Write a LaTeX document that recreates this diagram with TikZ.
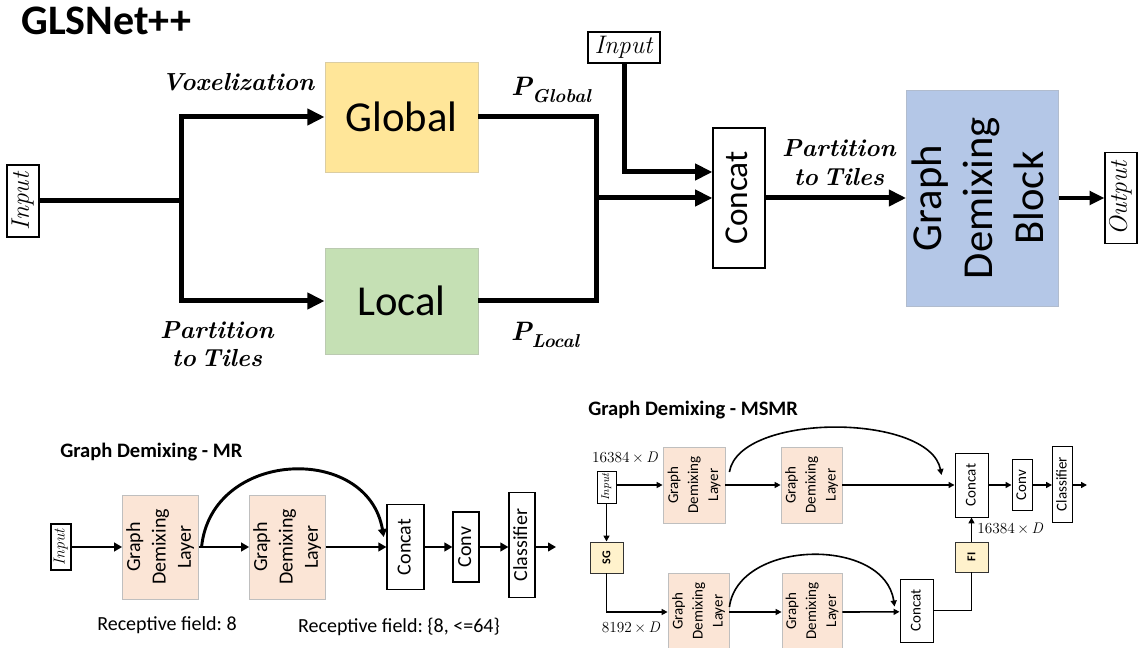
\documentclass[tikz,border=0pt]{standalone}
\usepackage{fontspec}
\setsansfont{Carlito}
\usepackage{graphicx}
\usetikzlibrary{arrows.meta,calc}
\frenchspacing

\definecolor{gyel}{HTML}{FFE699}
\definecolor{ggrn}{HTML}{C5E0B4}
\definecolor{gblu}{HTML}{B4C7E7}
\definecolor{gpch}{HTML}{FBE5D6}
\definecolor{gcrm}{HTML}{FFF2CC}

% vertical (rotated) multi-line text
\newcommand\vt[1]{\rotatebox{90}{\begin{tabular}{@{}c@{}}#1\end{tabular}}}
% spaced bold-italic labels
\newcommand\bi[1]{{\bfseries\itshape\addfontfeatures{LetterSpace=8}#1}}
% bold-italic symbol with a subscript
\newcommand\psub[1]{\bi{P}\raisebox{-0.28em}{\fontsize{14}{15}\selectfont\bi{#1}}}

\tikzset{
  sz/.style 2 args={minimum width=#1*0.75pt, minimum height=#2*0.75pt},
  box/.style={draw=black, line width=0.9pt, fill=white, inner sep=0pt},
  cbox/.style={draw=black!25, line width=0.6pt, inner sep=0pt},
  fat/.style={line width=3.75pt},
  fatarrow/.style={fat, -{Triangle[length=13pt,width=12pt]}},
  outarrow/.style={line width=3pt, -{Triangle[length=11pt,width=10pt]}},
  midline/.style={line width=2pt},
  midarrow/.style={midline, -{Triangle[length=6pt,width=6.5pt]}},
  thinline/.style={line width=1.2pt},
  thinarrow/.style={thinline, -{Triangle[length=4.5pt,width=4.5pt]}},
  big/.style={font=\sffamily\fontsize{32}{38}\selectfont},
  lbl/.style={font=\fontsize{18.5}{21.5}\selectfont, align=center, inner sep=0pt},
  plbl/.style={font=\fontsize{20}{23}\selectfont, inner sep=0pt},
  mrf/.style={font=\sffamily\fontsize{15}{19}\selectfont},
  msf/.style={font=\sffamily\fontsize{11.25}{15}\selectfont},
  dimf/.style={inner sep=0pt, font=\fontsize{11.5}{14}\selectfont},
}

\begin{document}
\begin{tikzpicture}[x=0.75pt, y=-0.75pt]
\useasboundingbox (0,0) rectangle (1143,648);

% ---------------- GLSNet++ overview ----------------
\node[anchor=base west, inner sep=0pt, font=\sffamily\fontsize{31.5}{36}\selectfont\bfseries] (title) at (21,35) {GLSNet++};

\node[box, sz={32}{72}, font=\fontsize{19}{22}\selectfont] (inL) at (23,201) {\vt{\textit{Input}}};
\coordinate (jL) at (181,201);

\node[cbox, fill=gyel, draw=gyel!80!black!70, sz={153}{110}, big] (global) at (401.5,117) {Global};
\node[cbox, fill=ggrn, draw=ggrn!80!black!70, sz={153}{106}, big] (local) at (401.5,301) {Local};

\node[lbl] (vox) at (238,82) {\bi{Voxelization}};
\node[lbl] (ptL) at (217,344) {\bi{Partition}\\\bi{to\hspace{-0.2em} Tiles}};

\draw[fat] (inL.east) -- (jL);
\draw[fatarrow] (jL) |- (global.west);
\draw[fatarrow] (jL) |- (local.west);

\node[plbl] (pg) at (551,90) {\psub{Global}};
\node[plbl] (pl) at (545,335) {\psub{Local}};

\coordinate (jR) at (596,198);
\draw[fat] (global.east) -| (jR);
\draw[fat] (local.east) -| (jR);

\node[box, sz={52}{140}, font=\sffamily\fontsize{25}{30}\selectfont] (concat) at (739,198) {\vt{Concat}};
\draw[fatarrow] (jR) -- (concat.west);

\node[box, sz={72}{31}, font=\fontsize{19}{22}\selectfont] (in2) at (624,47.5) {\textit{Input}};
\draw[fatarrow] (in2.south) |- ([yshift=19.5pt]concat.west);

\node[lbl] (ptR) at (839,162.5) {\bi{Partition}\\\bi{to\hspace{-0.2em} Tiles}};

\node[cbox, fill=gblu, draw=gblu!80!black!70, sz={151}{216}, big] (gdb) at (982.5,198) {\vt{Graph\\Demixing\\Block}};
\draw[fatarrow] (concat.east) -- (gdb.west);

\node[box, sz={32}{91}, font=\fontsize{19}{22}\selectfont] (out) at (1121,198) {\vt{\textit{Output}}};
\draw[outarrow] (gdb.east) -- (out.west);

% ---------------- Graph Demixing - MR ----------------
\node[anchor=west, inner sep=0pt, font=\sffamily\fontsize{15.4}{18}\selectfont\bfseries] (mrT) at (60,452) {Graph Demixing - MR};

\node[box, line width=0.8pt, sz={20}{46}, font=\fontsize{12}{14}\selectfont] (inA) at (61,547) {\vt{\textit{Input}}};
\node[cbox, fill=gpch, sz={67}{104}, mrf] (gA1) at (160.5,547) {\vt{Graph\\Demixing\\Layer}};
\node[cbox, fill=gpch, sz={69}{104}, mrf] (gA2) at (287.5,547) {\vt{Graph\\Demixing\\Layer}};
\node[box, sz={37}{85}, mrf] (cA) at (405.5,547) {\vt{Concat}};
\node[box, sz={26}{70}, mrf] (vA) at (466,547) {\vt{Conv}};
\node[box, sz={26}{105}, mrf] (kA) at (522,545) {\vt{Classifier}};
\coordinate (oA) at (556,547);

\draw[midarrow] (inA.east) -- (gA1.west);
\draw[midarrow] (gA1.east) -- (gA2.west);
\draw[midarrow] (gA2.east) -- (cA.west);
\draw[midarrow] (cA.east) -- (vA.west);
\draw[midarrow] (vA.east) -- (kA.west |- vA.east);
\draw[midarrow] (kA.east |- vA.east) -- (oA);
\draw[midarrow, line width=2.2pt] ([xshift=2pt]gA1.east) .. controls +(10,-98) and +(-16,-94) .. ([xshift=-2pt,yshift=7.5pt]cA.west);

\node[mrf] (rf1) at (167,625) {Receptive field: 8};
\node[mrf] (rf2) at (399,627) {Receptive field: \{8, <=64\}};

% ---------------- Graph Demixing - MSMR ----------------
\node[anchor=west, inner sep=0pt, font=\sffamily\fontsize{15.4}{18}\selectfont\bfseries] (msT) at (588,410) {Graph Demixing - MSMR};

\node[dimf] (d1) at (625,457) {16384\,×\,\textit{D}};
\node[box, line width=0.7pt, sz={19}{32}, font=\fontsize{8.5}{10}\selectfont] (inB) at (606.5,487) {\vt{\textit{Input}}};
\node[cbox, fill=gpch, sz={62}{76}, msf] (gT1) at (694,485) {\vt{Graph\\Demixing\\Layer}};
\node[cbox, fill=gpch, sz={61}{76}, msf] (gT2) at (811.5,485) {\vt{Graph\\Demixing\\Layer}};
\node[box, line width=0.7pt, sz={33}{64}, msf] (cT) at (971.5,485) {\vt{Concat}};
\node[box, line width=0.7pt, sz={20}{51}, msf] (vT) at (1022,485) {\vt{Conv}};
\node[box, line width=0.7pt, sz={19}{76}, msf] (kT) at (1062.5,484) {\vt{Classifier}};
\coordinate (oT) at (1087,485);

\node[draw=black!80, line width=0.7pt, fill=gcrm, inner sep=0pt, sz={33}{31}, font=\sffamily\fontsize{9}{11}\selectfont\bfseries] (sg) at (606.5,557.5) {\rotatebox{90}{SG}};
\node[draw=black!80, line width=0.7pt, fill=gcrm, inner sep=0pt, sz={33}{30}, font=\sffamily\fontsize{9}{11}\selectfont\bfseries] (fi) at (971.5,557) {\rotatebox{90}{FI}};

\node[cbox, fill=gpch, sz={61}{76}, msf] (gB1) at (698.5,611) {\vt{Graph\\Demixing\\Layer}};
\node[cbox, fill=gpch, sz={60}{76}, msf] (gB2) at (812,611) {\vt{Graph\\Demixing\\Layer}};
\node[box, line width=0.7pt, sz={33}{63}, msf] (cB) at (916.5,610.5) {\vt{Concat}};

\node[dimf] (d2) at (631,627) {8192\,×\,\textit{D}};
\node[dimf, anchor=west] (d3) at (977,528) {16384\,×\,\textit{D}};

\draw[thinarrow] ([yshift=1.5pt]inB.east) -- (gT1.west);
\draw[thinarrow] (gT1.east) -- (gT2.west);
\draw[thinarrow] (gT2.east) -- (cT.west);
\draw[thinarrow] (cT.east) -- (vT.west);
\draw[thinarrow] (vT.east) -- (kT.west |- vT.east);
\draw[thinarrow] (kT.east |- vT.east) -- (oT);
\draw[thinarrow] ([xshift=3pt,yshift=9.75pt]gT1.east) .. controls +(10,-60) and +(-12,-62) .. ([xshift=-9.75pt,yshift=7.5pt]cT.west);

\draw[thinarrow] (inB.south) -- (sg.north);
\draw[thinarrow] (sg.south) |- ([yshift=-0.75pt]gB1.west);
\draw[thinarrow] ([yshift=-0.75pt]gB1.east) -- ([yshift=-0.75pt]gB2.west);
\draw[thinarrow] ([yshift=-0.75pt]gB2.east) -- ([yshift=-1pt]cB.west);
\draw[thinarrow] ([yshift=3pt]gB1.east) .. controls +(9,-68) and +(-10,-70) .. ([xshift=-3.75pt,yshift=3pt]cB.west);

\draw[thinline] (cB.east) -| (fi.south);
\draw[thinarrow] (fi.north) -- (cT.south);
\end{tikzpicture}
\end{document}
